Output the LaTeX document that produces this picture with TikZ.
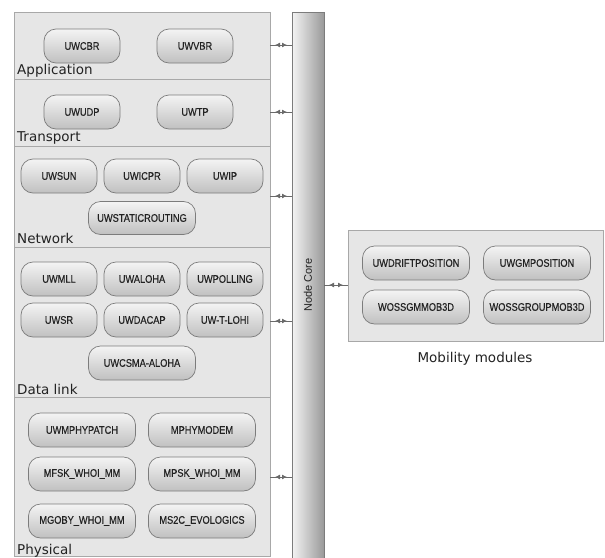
\documentclass[tikz,border=0pt]{standalone}
\usepackage{fontspec}
\usetikzlibrary{arrows.meta}
\setmainfont{DejaVu Sans}
\newfontfamily\modfont[FakeStretch=0.84,FakeBold=0.4]{Liberation Sans}
\newfontfamily\corefont{Liberation Sans}
\definecolor{panelfill}{HTML}{E6E6E6}
\definecolor{paneldraw}{HTML}{A8A8A8}
\definecolor{modtop}{HTML}{F4F4F4}
\definecolor{modbot}{HTML}{C0C0C0}
\definecolor{moddraw}{HTML}{7C7C7C}
\definecolor{txt}{HTML}{222222}
\definecolor{arrowc}{HTML}{6A6A6A}
\tikzset{
  panel/.style={fill=panelfill, draw=paneldraw, line width=0.8pt},
  module/.style={draw=moddraw, line width=0.7pt, rounded corners=12pt,
    top color=modtop, bottom color=modbot, minimum height=34pt,
    inner sep=0pt, text=txt, font=\modfont\fontsize{11}{12}\selectfont},
  modA/.style={module, minimum width=76pt},
  modB/.style={module, minimum width=107pt},
  layerlabel/.style={anchor=base west, inner sep=0pt, text=txt, font=\fontsize{13.5}{15}\selectfont},
  linkline/.style={arrowc, line width=0.8pt},
  link/.style={arrowc, line width=0.8pt, {Latex[length=5pt,width=5pt]}-{Latex[length=5pt,width=5pt]}, shorten <=5pt, shorten >=5pt}
}
\begin{document}
\begin{tikzpicture}[x=1pt,y=-1pt]
\useasboundingbox (0,0) rectangle (605,557);
% panels
\draw[panel] (14,12) rectangle (270,79);
\draw[panel] (14,79) rectangle (270,146);
\draw[panel] (14,146) rectangle (270,247);
\draw[panel] (14,247) rectangle (270,397);
\draw[panel] (14,397) rectangle (270,556);
\coordinate (appE) at (270,45);
\coordinate (traE) at (270,112);
\coordinate (netE) at (270,196);
\coordinate (dlE) at (270,321);
\coordinate (phyE) at (270,477);
% node core
\draw[draw=moddraw, line width=0.7pt, left color=modtop, right color=black!40] (292,12) rectangle (324,560);
\node[rotate=90, text=txt, font=\corefont\fontsize{11}{12}\selectfont] (core) at (308,285) {Node Core};
\coordinate (appW) at (292,45);
\coordinate (traW) at (292,112);
\coordinate (netW) at (292,196);
\coordinate (dlW) at (292,321);
\coordinate (phyW) at (292,477);
\coordinate (coreE) at (324,285);
% mobility panel
\draw[panel] (348,230) rectangle (603,341);
\coordinate (mobW) at (348,285);
\node[anchor=base, inner sep=0pt, text=txt, font=\fontsize{13.5}{15}\selectfont] (moblabel) at (475,362) {Mobility modules};
% Application
\node[modA] (uwcbr) at (82,46) {UWCBR};
\node[modA] (uwvbr) at (195,46) {UWVBR};
\node[layerlabel] (lapp) at (17,74) {Application};
% Transport
\node[modA] (uwudp) at (82,112) {UWUDP};
\node[modA] (uwtp) at (195,112) {UWTP};
\node[layerlabel] (ltra) at (17,141) {Transport};
% Network
\node[modA] (uwsun) at (59,176) {UWSUN};
\node[modA] (uwicpr) at (142,176) {UWICPR};
\node[modA] (uwip) at (225,176) {UWIP};
\node[modB, minimum height=33pt] (uwstatic) at (142,218) {UWSTATICROUTING};
\node[layerlabel] (lnet) at (17,243) {Network};
% Data link
\node[modA] (uwmll) at (59,279) {UWMLL};
\node[modA] (uwaloha) at (142,279) {UWALOHA};
\node[modA] (uwpolling) at (225,279) {UWPOLLING};
\node[modA] (uwsr) at (59,320) {UWSR};
\node[modA] (uwdacap) at (142,320) {UWDACAP};
\node[modA] (uwtlohi) at (225,320) {UW-T-LOHI};
\node[modB] (uwcsma) at (142,363) {UWCSMA-ALOHA};
\node[layerlabel] (ldl) at (17,394) {Data link};
% Physical
\node[modB] (uwmphy) at (82,430) {UWMPHYPATCH};
\node[modB] (mphymodem) at (202,430) {MPHYMODEM};
\node[modB] (mfsk) at (82,474) {MFSK\_WHOI\_MM};
\node[modB] (mpsk) at (202,474) {MPSK\_WHOI\_MM};
\node[modB] (mgoby) at (82,521) {MGOBY\_WHOI\_MM};
\node[modB] (ms2c) at (202,521) {MS2C\_EVOLOGICS};
\node[layerlabel] (lphy) at (17,554) {Physical};
% Mobility
\node[modB] (drift) at (416,263) {UWDRIFTPOSITION};
\node[modB] (gmpos) at (537,263) {UWGMPOSITION};
\node[modB] (gmmob) at (416,307) {WOSSGMMOB3D};
\node[modB] (groupmob) at (537,307) {WOSSGROUPMOB3D};
% connectors
\foreach \a/\b in {appE/appW, traE/traW, netE/netW, dlE/dlW, phyE/phyW, coreE/mobW}{
  \draw[linkline] (\a) -- (\b);
  \draw[link] (\a) -- (\b);
}
\end{tikzpicture}
\end{document}
